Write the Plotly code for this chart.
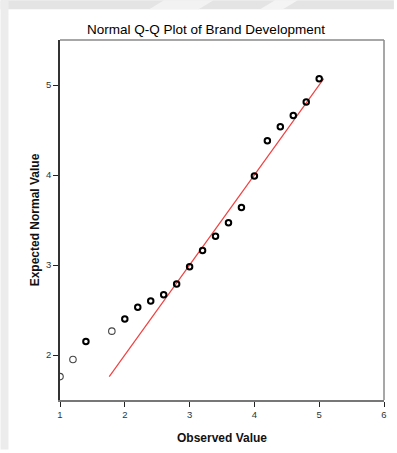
import plotly.graph_objects as go

# Observed values of Brand Development and their expected normal values
observed = [1.0, 1.2, 1.4, 1.8, 2.0, 2.2, 2.4, 2.6, 2.8, 3.0,
            3.2, 3.4, 3.6, 3.8, 4.0, 4.2, 4.4, 4.6, 4.8, 5.0]
expected = [1.76, 1.95, 2.15, 2.265, 2.40, 2.53, 2.60, 2.67, 2.79, 2.98,
            3.16, 3.32, 3.47, 3.64, 3.99, 4.38, 4.535, 4.66, 4.81, 5.07]
# number of cases sharing each observed value
cases = [1, 1, 2, 1, 2, 2, 2, 2, 2, 2,
         2, 2, 2, 2, 2, 2, 2, 2, 2, 2]

x_ticks = [1, 2, 3, 4, 5, 6]
y_ticks = [2, 3, 4, 5]

title = "Normal Q-Q Plot of Brand Development"
x_title = "Observed Value"
y_title = "Expected Normal Value"

W, H = 397, 453
ML, MR, MT, MB = 60, 10, 40, 50
PW, PH = W - ML - MR, H - MT - MB


def px_x(p):
    return (p - ML) / PW


def px_y(p):
    return (H - MB - p) / PH


single_x = [o for o, c in zip(observed, cases) if c == 1]
single_y = [e for e, c in zip(expected, cases) if c == 1]
multi_x = [o for o, c in zip(observed, cases) if c > 1]
multi_y = [e for e, c in zip(expected, cases) if c > 1]

lo, hi = min(expected), max(expected)

fig = go.Figure()
fig.add_trace(go.Scatter(
    x=[lo, hi], y=[lo, hi], mode="lines",
    line=dict(color="#f04040", width=1.2), hoverinfo="skip"))
fig.add_trace(go.Scatter(
    x=single_x, y=single_y, mode="markers",
    marker=dict(symbol="circle-open", size=6.5,
                line=dict(color="#444444", width=1.1), color="#444444")))
fig.add_trace(go.Scatter(
    x=multi_x, y=multi_y, mode="markers",
    marker=dict(symbol="circle-open", size=5.5,
                line=dict(color="#000000", width=2.0), color="#000000")))

# window-like surround: gray band at the top and strip at the left
shapes = [
    dict(type="rect", xref="paper", yref="paper", layer="below",
         x0=px_x(0), x1=px_x(W), y0=px_y(9), y1=px_y(0),
         fillcolor="#e4e4e4", line_width=0),
    dict(type="rect", xref="paper", yref="paper", layer="below",
         x0=px_x(0), x1=px_x(8), y0=px_y(H), y1=px_y(0),
         fillcolor="#ececec", line_width=0),
    dict(type="path", xref="paper", yref="paper", layer="below",
         path=f"M {px_x(150)},{px_y(9)} L {px_x(165)},{px_y(0)} "
              f"L {px_x(215)},{px_y(0)} L {px_x(200)},{px_y(9)} Z",
         fillcolor="#f2f2f2", line_width=0),
    dict(type="path", xref="paper", yref="paper", layer="below",
         path=f"M {px_x(262)},{px_y(9)} L {px_x(277)},{px_y(0)} "
              f"L {px_x(300)},{px_y(0)} L {px_x(285)},{px_y(9)} Z",
         fillcolor="#f4f4f4", line_width=0),
    # gray top and right frame of the plot area
    dict(type="line", xref="paper", yref="paper", x0=0, x1=1, y0=1, y1=1,
         line=dict(color="#8a8a8a", width=1.5)),
    dict(type="line", xref="paper", yref="paper", x0=1, x1=1, y0=0, y1=1,
         line=dict(color="#8a8a8a", width=1.5)),
]

fig.update_layout(
    width=W, height=H,
    margin=dict(l=ML, r=MR, t=MT, b=MB),
    paper_bgcolor="white", plot_bgcolor="white",
    showlegend=False,
    shapes=shapes,
    font=dict(family="Liberation Sans, Arial, sans-serif", color="#222222"),
    title=dict(text=title, x=206 / W, xanchor="center",
               y=1 - 29 / H, yanchor="middle",
               font=dict(size=13.5, color="#000000")),
    xaxis=dict(range=[1, 6], tickvals=x_ticks, showgrid=False, zeroline=False,
               showline=True, linecolor="#777777", linewidth=1.5,
               ticks="outside", ticklen=5, tickcolor="#222222", tickwidth=1,
               tickfont=dict(size=9.5, color="#333333"),
               title=dict(text=f"<b>{x_title}</b>", standoff=14,
                          font=dict(size=12, color="#111111"))),
    yaxis=dict(range=[1.5, 5.5], tickvals=y_ticks, showgrid=False, zeroline=False,
               showline=True, linecolor="#333333", linewidth=1.5,
               ticks="outside", ticklen=5, tickcolor="#222222", tickwidth=1,
               tickfont=dict(size=9.5, color="#333333"),
               title=dict(text=f"<b>{y_title}</b>", standoff=4,
                          font=dict(size=12, color="#111111"))),
)

fig.write_html("out.html")
